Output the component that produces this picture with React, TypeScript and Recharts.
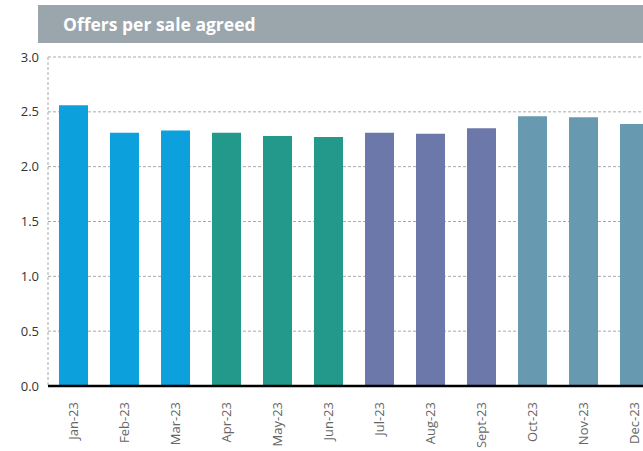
import { BarChart, Bar, XAxis, YAxis, CartesianGrid, Cell } from "recharts"

const months = ["Jan-23", "Feb-23", "Mar-23", "Apr-23", "May-23", "Jun-23", "Jul-23", "Aug-23", "Sept-23", "Oct-23", "Nov-23", "Dec-23"]
const offers = [2.56, 2.31, 2.33, 2.31, 2.28, 2.27, 2.31, 2.3, 2.35, 2.46, 2.45, 2.39]
const quarterColours = ["#0ca1dc", "#23998b", "#6c77aa", "#679ab0"]
const yTicks = [0, 0.5, 1, 1.5, 2, 2.5, 3]

const data = months.map((m, i) => ({ month: m, value: offers[i] }))

const font = "'Open Sans', 'DejaVu Sans', sans-serif"

function MonthTick(props: any) {
  const { x, y, payload } = props
  return (
    <g transform={`translate(${x},${y})`}>
      <text
        x={-8}
        y={0}
        dy={4.5}
        textAnchor="end"
        transform="rotate(-90)"
        fill="#666"
        fontSize={13}
        fontFamily={font}
      >
        {payload.value}
      </text>
    </g>
  )
}

export default function App() {
  return (
    <div style={{ position: "absolute", left: 0, top: 0, width: 643, height: 451, overflow: "hidden", background: "#fff" }}>
      <div
        style={{
          position: "absolute",
          left: 38,
          top: 5,
          width: 605,
          height: 38,
          background: "#9aa5ac",
          color: "#fff",
          fontFamily: font,
          fontWeight: 700,
          fontSize: 17.5,
          lineHeight: "38px",
          paddingLeft: 25,
          boxSizing: "border-box",
        }}
      >
        Offers per sale agreed
      </div>
      <BarChart
        width={670}
        height={451}
        data={data}
        margin={{ top: 57, right: 10, bottom: 0, left: 0 }}
        barSize={29}
      >
        <CartesianGrid vertical={false} stroke="#aaa" strokeDasharray="3 2" />
        <YAxis
          width={48}
          domain={[0, 3]}
          ticks={yTicks}
          tickFormatter={(v: number) => v.toFixed(1)}
          axisLine={{ stroke: "#aaa", strokeDasharray: "3 2" }}
          tickLine={false}
          tickMargin={3}
          tick={{ fill: "#333", fontSize: 13, fontFamily: font }}
        />
        <XAxis
          dataKey="month"
          height={65}
          interval={0}
          tickLine={false}
          axisLine={{ stroke: "#000", strokeWidth: 2.5 }}
          tick={<MonthTick />}
        />
        <Bar dataKey="value" isAnimationActive={false}>
          {data.map((_, i) => (
            <Cell key={i} fill={quarterColours[Math.floor(i / 3)]} />
          ))}
        </Bar>
      </BarChart>
    </div>
  )
}
